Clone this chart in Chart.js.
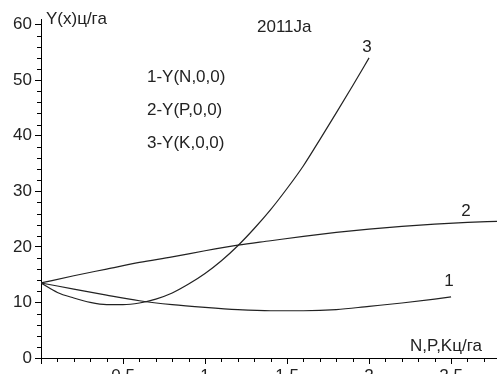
<!DOCTYPE html>
<html>
<head>
<meta charset="utf-8">
<script src="https://cdn.jsdelivr.net/npm/chart.js@4"></script>
<style>
  body { margin: 0; background: #fff; }
  #wrap { width: 497px; height: 374px; overflow: hidden; }
</style>
</head>
<body>
<div id="wrap"><canvas id="myChart1" width="497" height="392"></canvas></div>
<script>
// curve 1 - Y(N,0,0)
let xN = [0, 0.2, 0.4, 0.6, 0.8, 1.0, 1.2, 1.4, 1.6, 1.8, 2.0, 2.2, 2.4, 2.5];
let yN = [13.5, 12.4, 11.3, 10.3, 9.6, 9.1, 8.7, 8.5, 8.5, 8.7, 9.3, 9.9, 10.6, 11.0];
// curve 2 - Y(P,0,0)
let xP = [0, 0.2, 0.4, 0.6, 0.8, 1.0, 1.2, 1.4, 1.6, 1.8, 2.0, 2.2, 2.4, 2.6, 2.78];
let yP = [13.5, 14.8, 16.0, 17.2, 18.2, 19.3, 20.3, 21.1, 21.9, 22.6, 23.2, 23.7, 24.1, 24.4, 24.6];
// curve 3 - Y(K,0,0)
let xK = [0, 0.1, 0.2, 0.3, 0.4, 0.5, 0.6, 0.7, 0.8, 0.9, 1.0, 1.1, 1.2, 1.3, 1.4, 1.5, 1.6, 1.7, 1.8, 1.9, 2.0];
let yK = [13.5, 11.8, 10.8, 10.0, 9.6, 9.6, 9.9, 10.6, 11.7, 13.3, 15.2, 17.5, 20.2, 23.3, 26.7, 30.5, 34.6, 39.3, 44.1, 49.0, 54.0];

let xMax = 2.78;
let yMax = 61;
let textFont = '17px "Liberation Sans", Arial, sans-serif';

function pts(xs, ys) {
    return xs.map((x, i) => ({ x: x, y: ys[i] }));
}

function curve(xs, ys) {
    return {
        data: pts(xs, ys),
        showLine: true,
        borderColor: '#222',
        borderWidth: 1.2,
        pointRadius: 0,
        cubicInterpolationMode: 'monotone',
        fill: false
    };
}

// labels + minor ticks, Maple style
const extras = {
    id: 'extras',
    afterDraw(chart) {
        const c = chart.ctx;
        const xs = chart.scales.x;
        const ys = chart.scales.y;
        c.save();
        c.strokeStyle = '#000';
        c.lineWidth = 1;
        c.beginPath();
        for (let i = 1; i * 0.1 < xMax; i++) {
            if (i % 5 === 0) continue;
            let px = Math.round(xs.getPixelForValue(i * 0.1)) + 0.5;
            c.moveTo(px, ys.bottom);
            c.lineTo(px, ys.bottom + 4);
        }
        for (let v = 2; v < yMax; v += 2) {
            if (v % 10 === 0) continue;
            let py = Math.round(ys.getPixelForValue(v)) + 0.5;
            c.moveTo(xs.left, py);
            c.lineTo(xs.left - 4, py);
        }
        c.stroke();

        c.fillStyle = '#222';
        c.font = textFont;
        c.textBaseline = 'middle';
        c.textAlign = 'left';
        c.fillText('Y(x)ц/га', 46, 19);
        c.fillText('2011Ja', 257, 27);
        c.fillText('1-Y(N,0,0)', 147, 77);
        c.fillText('2-Y(P,0,0)', 147, 110);
        c.fillText('3-Y(K,0,0)', 147, 143);
        c.fillText('N,P,Kц/га', 410, 346);
        c.textAlign = 'center';
        c.fillText('3', 367, 47);
        c.fillText('2', 466, 211);
        c.fillText('1', 449, 281);
        c.restore();
    }
};

let ctx = document.getElementById('myChart1').getContext('2d');
let myChart1 = new Chart(ctx, {
    type: 'scatter',
    data: {
        datasets: [curve(xN, yN), curve(xP, yP), curve(xK, yK)]
    },
    options: {
        responsive: false,
        animation: false,
        devicePixelRatio: 1,
        layout: { padding: { top: 19, left: 0, right: 0, bottom: 0 } },
        plugins: {
            legend: { display: false },
            tooltip: { enabled: false }
        },
        scales: {
            x: {
                type: 'linear',
                min: 0,
                max: xMax,
                afterFit: (s) => { s.height = 34; },
                border: { color: '#000', width: 1 },
                grid: { drawOnChartArea: false, drawTicks: true, tickLength: 6, color: '#000' },
                ticks: {
                    stepSize: 0.5,
                    includeBounds: false,
                    maxRotation: 0,
                    padding: 2,
                    color: '#222',
                    font: { family: '"Liberation Sans", Arial, sans-serif', size: 17 },
                    callback: (v) => v === 0 ? '' : String(v)
                }
            },
            y: {
                min: 0,
                max: yMax,
                afterFit: (s) => { s.width = 41; },
                border: { color: '#000', width: 1 },
                grid: { drawOnChartArea: false, drawTicks: true, tickLength: 6, color: '#000' },
                ticks: {
                    stepSize: 10,
                    includeBounds: false,
                    padding: 3,
                    color: '#222',
                    font: { family: '"Liberation Sans", Arial, sans-serif', size: 17 }
                }
            }
        }
    },
    plugins: [extras]
});
</script>
</body>
</html>
